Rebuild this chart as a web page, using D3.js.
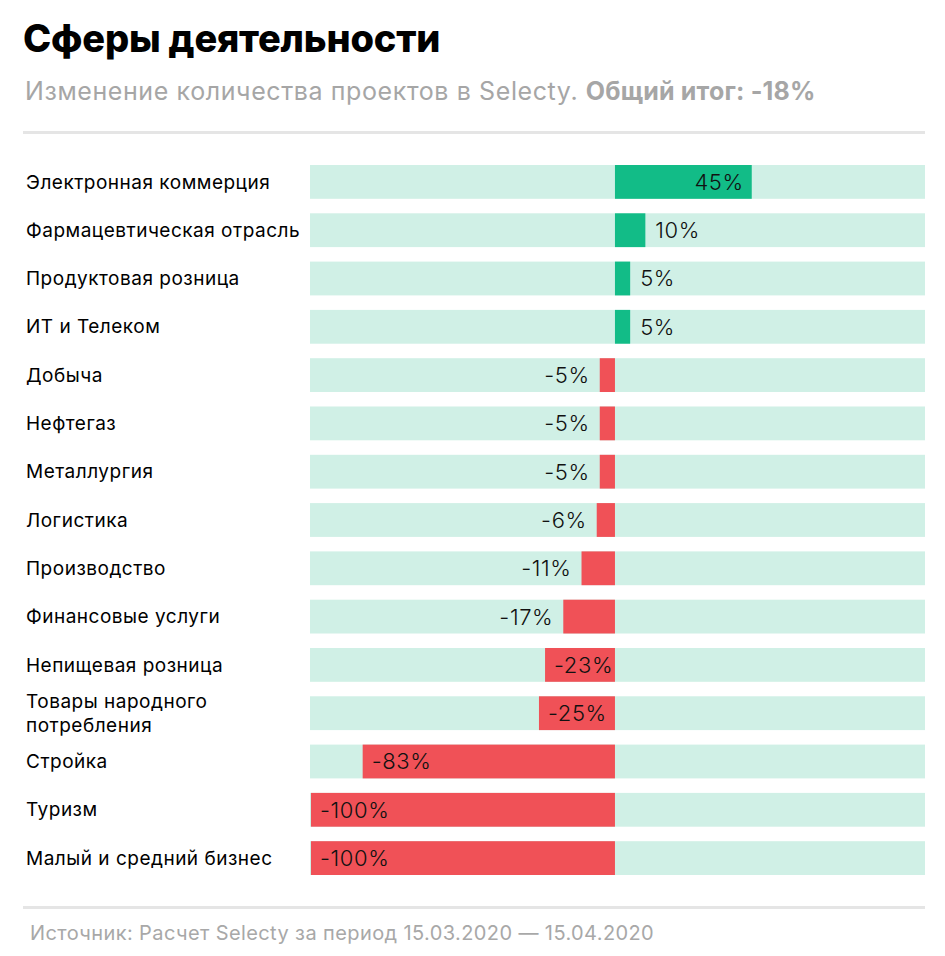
<!DOCTYPE html>
<html>
<head>
<meta charset="utf-8">
<script src="https://cdn.jsdelivr.net/npm/d3@7"></script>
<style>
  html, body { margin: 0; padding: 0; background: #fff; }
  svg { display: block; }
</style>
</head>
<body>
<script>
const categories = [
  "Электронная коммерция",
  "Фармацевтическая отрасль",
  "Продуктовая розница",
  "ИТ и Телеком",
  "Добыча",
  "Нефтегаз",
  "Металлургия",
  "Логистика",
  "Производство",
  "Финансовые услуги",
  "Непищевая розница",
  "Товары народного\nпотребления",
  "Стройка",
  "Туризм",
  "Малый и средний бизнес"
];
const values = [45, 10, 5, 5, -5, -5, -5, -6, -11, -17, -23, -25, -83, -100, -100];
const titleText = "Сферы деятельности";
const subtitleText = "Изменение количества проектов в Selecty. ";
const subtitleBold = "Общий итог: -18%";
const sourceText = "Источник: Расчет Selecty за период 15.03.2020 — 15.04.2020";

const W = 945, H = 956;
const FONT = "Inter, 'Noto Sans', sans-serif";

const svg = d3.select("body").append("svg").attr("width", W).attr("height", H);

svg.append("text").attr("x", 23).attr("y", 52)
  .attr("font-family", FONT).attr("font-weight", 800).attr("font-size", 38)
  .attr("letter-spacing", -0.2).attr("fill", "#000").text(titleText);

const sub = svg.append("text").attr("x", 25).attr("y", 100)
  .attr("font-family", FONT).attr("font-size", 25).attr("letter-spacing", 0.6).attr("fill", "#a6a6a6");
sub.append("tspan").attr("font-weight", 400).text(subtitleText);
sub.append("tspan").attr("font-weight", 700).attr("letter-spacing", 0.2).text(subtitleBold);

svg.append("line").attr("x1", 23).attr("x2", 925).attr("y1", 132.5).attr("y2", 132.5)
  .attr("stroke", "#e5e5e5").attr("stroke-width", 3);
svg.append("line").attr("x1", 23).attr("x2", 925).attr("y1", 907.5).attr("y2", 907.5)
  .attr("stroke", "#e5e5e5").attr("stroke-width", 3);

svg.append("text").attr("x", 30).attr("y", 940)
  .attr("font-family", FONT).attr("font-size", 20).attr("letter-spacing", 0.4)
  .attr("fill", "#a8a8a8").text(sourceText);

const x = d3.scaleLinear().domain([-100, 102]).range([311, 925]);
const y = d3.scaleBand().domain(categories).range([165, 875]).paddingInner(0.3).paddingOuter(0);

const rows = svg.append("g").selectAll("g").data(categories).join("g")
  .attr("transform", d => `translate(0,${y(d)})`);

rows.append("rect").attr("x", x(-100) - 1).attr("width", x(102) - x(-100) + 1)
  .attr("height", y.bandwidth()).attr("fill", "#d0f0e6");

rows.append("rect")
  .attr("x", (d, i) => x(Math.min(0, values[i])))
  .attr("width", (d, i) => Math.abs(x(values[i]) - x(0)))
  .attr("height", y.bandwidth())
  .attr("fill", (d, i) => values[i] >= 0 ? "#12bc87" : "#f05157");

rows.each(function(d, i) {
  const lines = d.split("\n");
  const t = d3.select(this).append("text")
    .attr("font-family", FONT).attr("font-size", 19).attr("letter-spacing", 0.5).attr("fill", "#000");
  const lh = 24;
  lines.forEach((ln, k) => {
    t.append("tspan").attr("x", 26)
      .attr("y", y.bandwidth() / 2 + (k - (lines.length - 1) / 2) * lh)
      .attr("dy", "0.35em").text(ln);
  });
});

rows.append("text")
  .attr("font-family", FONT).attr("font-size", 22).attr("font-weight", 300)
  .attr("letter-spacing", 0.6).attr("fill", "#111")
  .attr("y", y.bandwidth() / 2).attr("dy", "0.36em")
  .each(function(d, i) {
    const v = values[i];
    const inside = Math.abs(v) > 20;
    const t = d3.select(this);
    if (v >= 0) {
      if (inside) t.attr("x", x(v) - 8).attr("text-anchor", "end");
      else t.attr("x", x(v) + 10).attr("text-anchor", "start");
    } else {
      if (inside) t.attr("x", x(v) + 9).attr("text-anchor", "start");
      else t.attr("x", x(v) - 10).attr("text-anchor", "end");
    }
    t.text(v + "%");
  });
</script>
</body>
</html>
